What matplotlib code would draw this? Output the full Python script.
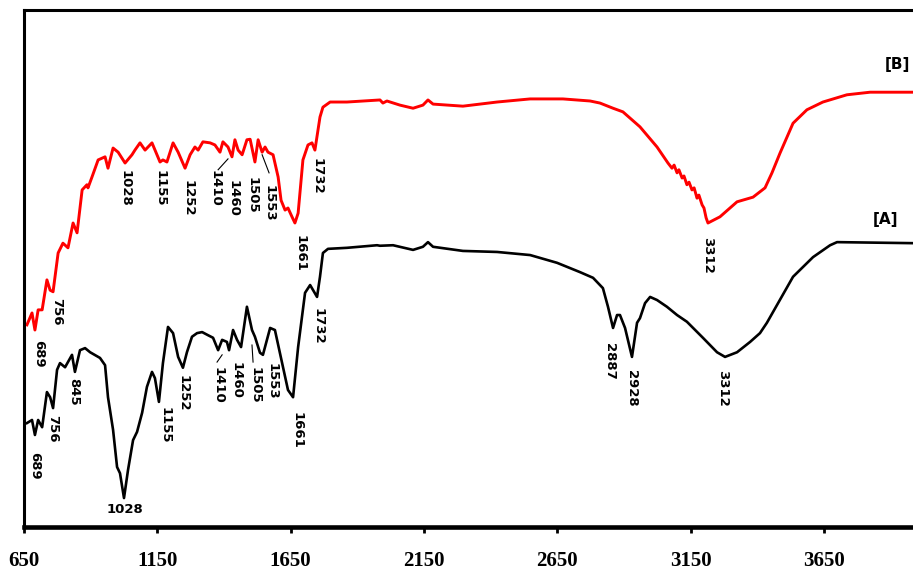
import numpy as np
import matplotlib
matplotlib.use('Agg')
import matplotlib.pyplot as plt

# spectrum [A] (black)
wn_a = [661, 680, 691, 703, 718, 736, 748, 759, 774, 785, 804, 830, 841, 860, 879, 898, 935, 954, 965, 984,
        999, 1010, 1025, 1040, 1059, 1074, 1093, 1111, 1130, 1141, 1156, 1171, 1190, 1209, 1228, 1246, 1261, 1280,
        1299, 1318, 1340, 1359, 1378, 1393, 1411, 1419, 1434, 1449, 1464, 1486, 1505, 1516, 1535, 1546, 1573, 1591,
        1618, 1640, 1659, 1678, 1704, 1723, 1749, 1760, 1771, 1790, 1861, 1974, 1985, 2034, 2109, 2146, 2165, 2184,
        2296, 2424, 2548, 2649, 2735, 2784, 2821, 2840, 2859, 2874, 2885, 2904, 2930, 2949, 2960, 2979, 2998, 3024,
        3061, 3099, 3136, 3196, 3249, 3279, 3324, 3373, 3410, 3436, 3534, 3609, 3673, 3699, 3984, 4000]
t_a = [20.1, 20.7, 17.8, 20.7, 19.3, 26.1, 25.1, 23.0, 30.4, 31.7, 30.9, 33.3, 30.0, 34.2, 34.6, 33.8, 32.7, 31.3,
       25.1, 18.8, 11.6, 10.4, 5.6, 11.0, 16.8, 18.4, 22.1, 27.1, 30.0, 28.8, 24.2, 31.7, 38.7, 37.5, 32.9, 30.8,
       33.8, 36.8, 37.5, 37.7, 37.1, 36.6, 34.2, 36.2, 35.8, 34.2, 38.1, 36.2, 34.8, 42.6, 38.1, 36.8, 33.7, 33.3,
       38.5, 38.1, 31.7, 26.5, 25.1, 34.8, 45.3, 46.8, 44.5, 48.4, 53.0, 53.8, 54.0, 54.5, 54.4, 54.5, 53.6, 54.2,
       55.1, 54.2, 53.4, 53.2, 52.6, 51.1, 49.3, 48.2, 46.2, 42.6, 38.5, 41.0, 41.0, 38.5, 32.9, 39.5, 40.4, 43.3,
       44.5, 43.9, 42.6, 41.0, 39.7, 36.6, 33.8, 32.9, 33.8, 35.8, 37.5, 39.5, 48.4, 52.2, 54.5, 55.1, 54.9, 54.9]

# spectrum [B] (red)
wn_b = [661, 680, 691, 703, 718, 736, 748, 759, 778, 796, 815, 834, 849, 868, 886, 890, 905, 928, 954, 965,
        984, 1003, 1029, 1055, 1066, 1085, 1104, 1130, 1160, 1171, 1186, 1209, 1228, 1254, 1273, 1291, 1303, 1321,
        1348, 1366, 1385, 1396, 1415, 1430, 1441, 1453, 1468, 1486, 1498, 1516, 1528, 1543, 1554, 1565, 1584, 1603,
        1614, 1629, 1640, 1655, 1666, 1678, 1696, 1715, 1730, 1741, 1760, 1771, 1798, 1861, 1985, 1996, 2011, 2060,
        2109, 2146, 2165, 2184, 2296, 2424, 2548, 2671, 2773, 2810, 2859, 2896, 2960, 3024, 3065, 3080, 3088, 3099,
        3106, 3118, 3125, 3136, 3144, 3155, 3163, 3174, 3181, 3193, 3200, 3208, 3215, 3260, 3324, 3384, 3429, 3455,
        3485, 3534, 3586, 3646, 3736, 3823, 3984, 4000]
t_b = [39.1, 41.4, 38.1, 42.0, 42.0, 47.8, 45.8, 45.5, 53.0, 54.9, 54.0, 58.8, 56.9, 65.2, 66.2, 65.6, 67.7, 71.0,
       71.6, 69.4, 73.3, 72.5, 70.4, 72.0, 72.9, 74.3, 72.9, 74.3, 70.6, 71.0, 70.6, 74.3, 72.5, 69.4, 72.0, 73.5,
       72.9, 74.5, 74.3, 73.9, 72.5, 74.5, 73.5, 71.6, 74.9, 72.9, 72.0, 74.9, 75.0, 70.6, 74.9, 72.5, 73.5, 72.5,
       72.0, 67.7, 63.2, 61.3, 61.7, 60.0, 58.8, 60.7, 71.0, 73.9, 74.3, 72.9, 79.3, 81.2, 82.2, 82.2, 82.6, 82.0,
       82.4, 81.6, 81.0, 81.6, 82.6, 81.8, 81.4, 82.2, 82.8, 82.8, 82.4, 82.0, 81.0, 80.3, 77.4, 73.5, 70.4, 69.4,
       70.0, 68.5, 69.1, 67.5, 67.9, 66.2, 66.7, 65.2, 65.6, 63.6, 64.2, 62.3, 61.7, 59.8, 58.8, 60.0, 62.9, 63.8,
       65.6, 68.5, 72.3, 78.1, 80.7, 82.2, 83.6, 84.1, 84.1, 84.3]

# peak labels: text, x, y (top of rotated label)
labels_a = ['689', '756', '845', '1155', '1252', '1410', '1460', '1505', '1553', '1661', '1732', '2887', '2928', '3312']
lx_a = [691, 759, 838, 1179, 1246, 1378, 1445, 1516, 1580, 1674, 1753, 2844, 2930, 3271]
ly_a = [14.5, 21.7, 28.8, 23.2, 29.4, 30.9, 31.9, 30.9, 31.7, 22.2, 42.4, 35.6, 30.4, 30.4]

labels_b = ['689', '756', '1028', '1155', '1252', '1410', '1460', '1505', '1553', '1661', '1732', '3312']
lx_b = [703, 774, 1029, 1160, 1265, 1366, 1434, 1505, 1569, 1685, 1749, 3215]
ly_b = [36.2, 44.3, 69.1, 69.1, 67.1, 69.1, 67.1, 67.7, 66.2, 56.5, 71.4, 56.1]

# leader lines
leaders = [((1393, 1374), (33.3, 31.9)), ((1505, 1509), (35.2, 31.9)),
           ((1415, 1378), (71.2, 69.1)), ((1543, 1569), (72.0, 68.5))]

xticks = [650, 1150, 1650, 2150, 2650, 3150, 3650]

fig = plt.figure(figsize=(9.13, 5.72), dpi=100)
ax = fig.add_axes([24/913, 45/572, 893.3/913, 517/572])

ax.plot(wn_a, t_a, color='black', lw=1.9)
ax.plot(wn_b, t_b, color='#ff0000', lw=2.1)

lab_font = dict(family='DejaVu Sans', fontweight='bold', fontsize=9.5)
for s, x, y in zip(labels_a, lx_a, ly_a):
    ax.text(x, y, s, rotation=270, ha='center', va='top', **lab_font)
for s, x, y in zip(labels_b, lx_b, ly_b):
    ax.text(x, y, s, rotation=270, ha='center', va='top', **lab_font)
ax.text(1029, 3.3, '1028', ha='center', va='center', **lab_font)
for xs, ys in leaders:
    ax.plot(xs, ys, color='black', lw=0.8)

ax.text(3879, 59.4, '[A]', ha='center', va='center', family='DejaVu Sans', fontweight='bold', fontsize=11)
ax.text(3924, 89.4, '[B]', ha='center', va='center', family='DejaVu Sans', fontweight='bold', fontsize=11)

ax.set_xlim(650, 4000)
ax.set_ylim(0, 100)
ax.set_xticks(xticks)
ax.set_xticklabels([str(t) for t in xticks], family='Liberation Serif', fontweight='bold', fontsize=15)
ax.tick_params(axis='x', direction='out', length=4.5, width=2, pad=13)
ax.tick_params(axis='y', left=False, labelleft=False)
ax.spines['bottom'].set_linewidth(3.3)
ax.spines['left'].set_linewidth(2.2)
ax.spines['top'].set_linewidth(2.2)
ax.spines['right'].set_linewidth(2.2)

fig.savefig('out.png', dpi=100)
